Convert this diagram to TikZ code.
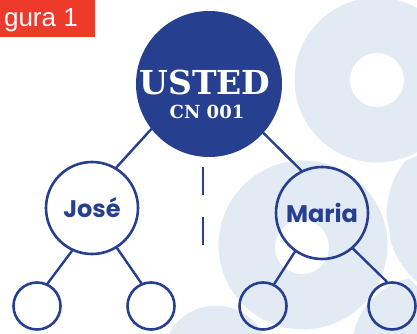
\documentclass[tikz,border=0pt]{standalone}
\usepackage{fontspec}
\newfontfamily\namefont{Poppins}
\newfontfamily\slabfont{DejaVu Serif}
\newfontfamily\tagfont{Liberation Sans}

\definecolor{tree}{HTML}{263F8E}
\definecolor{mist}{HTML}{E2EAF4}
\definecolor{tagred}{HTML}{EE3A2A}

\tikzset{
  boss/.style={circle, fill=tree, inner sep=0pt, minimum size=146pt},
  person/.style={circle, draw=tree, line width=2.6pt, inner sep=0pt, minimum size=92pt,
    text=tree, font=\namefont\bfseries\fontsize{24}{26}\selectfont},
  leaf/.style={circle, draw=tree, line width=2.6pt, inner sep=0pt, minimum size=47pt},
  branch/.style={draw=tree, line width=2.4pt, line cap=round},
  blob/.style={fill=mist, draw=white, line width=3pt},
}

\begin{document}
\begin{tikzpicture}[x=1pt,y=-1pt]
                        \useasboundingbox (0,0) rectangle (417,334);
                        % background rings
                        \begin{scope}
                        \clip (0,0) rectangle (417,334);
                        \draw[blob] (216,359) circle (55pt);
                        \draw[blob] (425,350) circle (75pt);
                        \draw[blob] (475,215) circle (90pt);
                        \draw[blob] (303,245) circle (86pt);
                        \fill[white] (302,247) circle (27pt);
                        \draw[blob] (377,80) circle (84pt);
                        \fill[white] (377,80) circle (27pt);
                        \end{scope}

                        % tag
                        \fill[tagred] (0,0) rectangle (95,37);
                        \node[anchor=base east, inner sep=0pt, text=white,
                          font=\tagfont\fontsize{26}{26}\selectfont] (tagtext) at (78,27) {gura 1};

                        % tree
                        \node[boss] (ustd) at (209,84) {};
                        \node[anchor=base, inner sep=0pt, text=white,
                          font=\slabfont\bfseries\fontsize{33}{33}\selectfont] (ustdname) at (205,95) {USTED};
                        \node[anchor=base, inner sep=0pt, text=white,
                          font=\slabfont\bfseries\fontsize{18}{18}\selectfont] (ustdcode) at (207,118) {CN 001};

                        \node[person] (jose) at (92,208) {José};
                        \node[person] (maria) at (322,213) {Maria};

                        \node[leaf] (leafa) at (37,306) {};
                        \node[leaf] (leafb) at (151,306) {};
                        \node[leaf] (leafc) at (263,306) {};
                        \node[leaf] (leafd) at (392,306) {};

                        \coordinate (dashtop) at (203,167);
                        \coordinate (dashend) at (203,247);

                        \draw[branch] (ustd.218) -- (jose.59);
                        \draw[branch] (ustd.318) -- (maria.116);
                        \draw[branch] (jose.245) -- (leafa.65);
                        \draw[branch] (jose.302) -- (leafb.113);
                        \draw[branch] (maria.235) -- (leafc.63);
                        \draw[branch] (maria.311) -- (leafd.102);
                        \draw[branch, line cap=butt, dash pattern=on 28pt off 22pt] (dashtop) -- (dashend);
                    \end{tikzpicture}
\end{document}
